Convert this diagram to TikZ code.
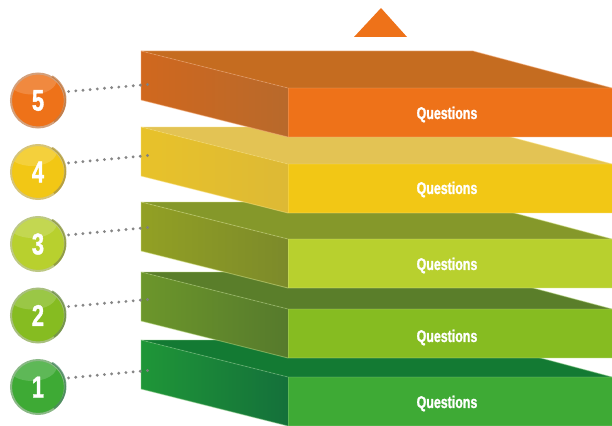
\documentclass[tikz,border=0pt]{standalone}
\usepackage{fontspec}
\setmainfont{Liberation Sans}
\newfontfamily\condfont[FakeStretch=0.73,BoldFeatures={FakeBold=1.2}]{Liberation Sans}
\definecolor{orF}{HTML}{EE7219}\definecolor{orT}{HTML}{C56C20}\definecolor{orA}{HTML}{D0681E}\definecolor{orB}{HTML}{B8692B}
\definecolor{yeF}{HTML}{F2C715}\definecolor{yeT}{HTML}{E3C354}\definecolor{yeA}{HTML}{E8C22A}\definecolor{yeB}{HTML}{DDB935}
\definecolor{liF}{HTML}{B8D02E}\definecolor{liT}{HTML}{85982A}\definecolor{liA}{HTML}{92A024}\definecolor{liB}{HTML}{7C8A2A}
\definecolor{grF}{HTML}{86BC21}\definecolor{grT}{HTML}{5A7E2A}\definecolor{grA}{HTML}{6C962B}\definecolor{grB}{HTML}{567A2C}
\definecolor{dgF}{HTML}{3EAA35}\definecolor{dgT}{HTML}{137A33}\definecolor{dgA}{HTML}{1F9638}\definecolor{dgB}{HTML}{14703A}
\newcommand{\slabdraw}[6]{%
  % #1 top y, #2 front, #3 top, #4 side left, #5 side right, #6 edge glow
  \fill[#3] (141,#1) -- (473,#1) -- (612,#1+37) -- (288,#1+37) -- cycle;
  \shade[left color=#4,right color=#5] (141,#1) -- (288,#1+37) -- (288,#1+86) -- (141,#1+49) -- cycle;
  \fill[#2] (288,#1+37) -- (612,#1+37) -- (612,#1+86) -- (288,#1+86) -- cycle;
  \draw[slabedge,#6] (141,#1+49) -- (141,#1) -- (473,#1) -- (612,#1+37);
  \draw[slabedge,#6] (141,#1+49) -- (288,#1+86) -- (612,#1+86);
  \draw[slabedge,#6,opacity=.35] (141,#1) -- (288,#1+37) -- (612,#1+37);
  \draw[slabedge,#6,opacity=.35] (288,#1+37) -- (288,#1+86);
}
\tikzset{
  x=1pt,y=-1pt,
  slabedge/.style={line width=0.9pt,opacity=.5},
  ball/.style={circle,minimum size=54pt,inner sep=0pt,text=white,
    font=\condfont\fontsize{30}{30}\selectfont\bfseries,line width=2pt,
    path picture={\fill[white,opacity=.17,rotate around={-15:(path picture bounding box.center)}]
      ([xshift=-6pt,yshift=21pt]path picture bounding box.center) ellipse (25pt and 15pt);}},
  rimdark/.style={line width=2pt,opacity=.6},
  dotline/.style={draw=black!50,line width=3.2pt,line cap=round,dash pattern=on 0pt off 7.2pt,opacity=.95,shorten <=4pt},
  qlabel/.style={text=white,font=\condfont\fontsize{17}{17}\selectfont\bfseries,inner sep=0pt},
  apex/.style={fill=orF}
}
\begin{document}
\begin{tikzpicture}
\useasboundingbox (0,0) rectangle (612,425);
\slabdraw{340}{dgF}{dgT}{dgA}{dgB}{dgF!55!white}
\slabdraw{272}{grF}{grT}{grA}{grB}{grF!55!white}
\slabdraw{202}{liF}{liT}{liA}{liB}{liF!55!white}
\slabdraw{127}{yeF}{yeT}{yeA}{yeB}{yeF!55!white}
\slabdraw{51}{orF}{orT}{orA}{orB}{orF!55!white}
\fill[apex] (381,8) -- (407,37) -- (354,37) -- cycle;
\node[qlabel] (q5) at (447,114.5) {Questions};
\node[qlabel] (q4) at (447,189.5) {Questions};
\node[qlabel] (q3) at (447,265.5) {Questions};
\node[qlabel] (q2) at (447,337.5) {Questions};
\node[qlabel] (q1) at (447,403.5) {Questions};
\node[ball,fill=orF,draw=orF!60!gray!70!white] (c5) at (38,100.5) {5};
\node[ball,fill=yeF,draw=yeF!60!gray!70!white] (c4) at (38,172) {4};
\node[ball,fill=liF,draw=liF!60!gray!70!white] (c3) at (38,244) {3};
\node[ball,fill=grF,draw=grF!60!gray!70!white] (c2) at (38,315.5) {2};
\node[ball,fill=dgF,draw=dgF!60!gray!70!white] (c1) at (38,387) {1};
\draw[rimdark,orB] (c5.60) arc (60:-55:27pt);
\draw[rimdark,yeA!70!black] (c4.60) arc (60:-55:27pt);
\draw[rimdark,liA!80!black] (c3.60) arc (60:-55:27pt);
\draw[rimdark,grB] (c2.60) arc (60:-55:27pt);
\draw[rimdark,dgB!80!gray] (c1.60) arc (60:-55:27pt);
\coordinate (d5) at (153,84);
\coordinate (d4) at (153,155);
\coordinate (d3) at (153,227);
\coordinate (d2) at (153,299);
\coordinate (d1) at (153,370);
\draw[dotline] (c5.18) -- (d5);
\draw[dotline] (c4.18) -- (d4);
\draw[dotline] (c3.18) -- (d3);
\draw[dotline] (c2.18) -- (d2);
\draw[dotline] (c1.18) -- (d1);
\end{tikzpicture}
\end{document}
